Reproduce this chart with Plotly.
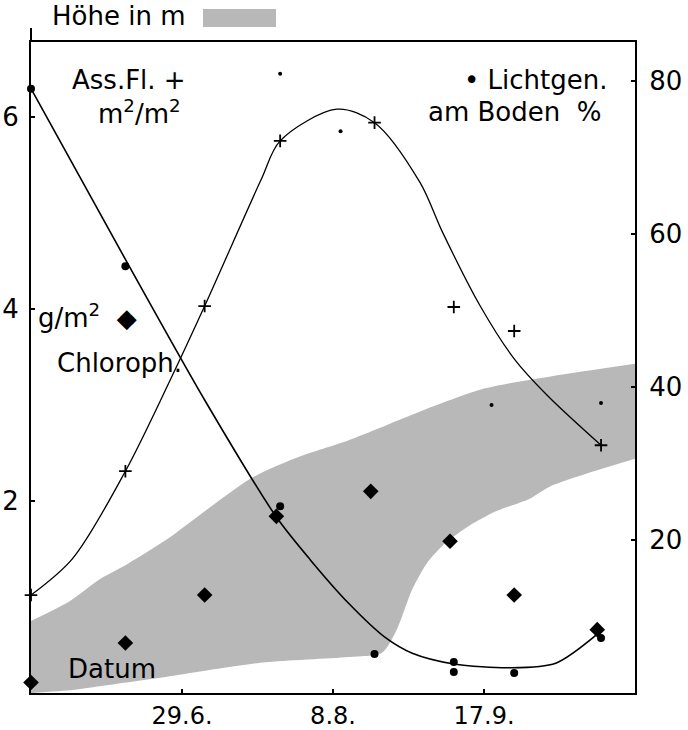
import plotly.graph_objects as go

# ---- data ----
# Assimilating leaf area (m2/m2), "+" markers, left axis
ass_dates = ["1960-05-20", "1960-06-14", "1960-07-05", "1960-07-25", "1960-08-19",
             "1960-09-09", "1960-09-25", "1960-10-18"]
ass_vals = [1.02, 2.31, 4.03, 5.75, 5.94, 4.02, 3.77, 2.58]
# hand-drawn curve for leaf area
ass_curve_dates = ["1960-05-20", "1960-05-31", "1960-06-14", "1960-06-26", "1960-07-05",
                   "1960-07-20", "1960-07-25", "1960-08-09", "1960-08-19", "1960-08-31",
                   "1960-09-06", "1960-09-16", "1960-09-25", "1960-10-04", "1960-10-18"]
ass_curve_vals = [1.02, 1.40, 2.31, 3.27, 4.03, 5.35, 5.75, 6.08, 5.94, 5.32,
                  4.80, 4.03, 3.48, 3.09, 2.58]
# small dots (second leaf-area estimate), left axis
small_dates = ["1960-07-25", "1960-08-10", "1960-09-19", "1960-10-18"]
small_vals = [6.45, 5.85, 3.00, 3.02]
# Chlorophyll g/m2, diamonds, left axis
chl_dates = ["1960-05-20", "1960-06-14", "1960-07-05", "1960-07-24", "1960-08-18",
             "1960-09-08", "1960-09-25", "1960-10-17"]
chl_vals = [0.11, 0.52, 1.02, 1.84, 2.10, 1.58, 1.02, 0.66]
# Light at ground (%), dots, right axis
light_dates = ["1960-05-20", "1960-06-14", "1960-07-25", "1960-08-19", "1960-09-09",
               "1960-09-09", "1960-09-25", "1960-10-18"]
light_vals = [79.0, 55.8, 24.4, 5.1, 4.05, 2.75, 2.6, 7.2]
# hand-drawn light curve
light_curve_dates = ["1960-05-20", "1960-06-15", "1960-07-05", "1960-07-24", "1960-08-02",
                     "1960-08-12", "1960-08-22", "1960-08-29", "1960-09-09", "1960-09-24",
                     "1960-10-06", "1960-10-17"]
light_curve_vals = [79.0, 55.8, 38.3, 23.0, 17.4, 11.8, 7.2, 5.2, 3.8, 3.3, 3.9, 7.7]
# Canopy height band (m), left axis
band_upper_dates = ["1960-05-20", "1960-05-30", "1960-06-07", "1960-06-14", "1960-06-25",
                    "1960-07-17", "1960-07-30", "1960-08-12", "1960-08-31", "1960-09-17",
                    "1960-10-05", "1960-10-27"]
band_upper_vals = [0.75, 0.95, 1.18, 1.33, 1.60, 2.23, 2.46, 2.63, 2.93, 3.17, 3.30, 3.43]
band_lower_dates = ["1960-05-20", "1960-05-31", "1960-06-07", "1960-06-25", "1960-07-08",
                    "1960-07-21", "1960-08-12", "1960-08-21", "1960-08-25", "1960-08-29",
                    "1960-09-02", "1960-09-07", "1960-09-13", "1960-09-20", "1960-09-29",
                    "1960-10-05", "1960-10-27"]
band_lower_vals = [0.0, 0.03, 0.07, 0.17, 0.25, 0.32, 0.375, 0.42, 0.67, 1.08,
                   1.36, 1.57, 1.74, 1.89, 2.02, 2.16, 2.44]

x_range = ["1960-05-20", "1960-10-27"]
x_tickvals = ["1960-06-29", "1960-08-08", "1960-09-17"]
x_ticktext = ["29.6.", "8.8.", "17.9."]
left_ticks = [2, 4, 6]
right_ticks = [20, 40, 60, 80]

FONT = "DejaVu Sans"
BAND = "#b8b8b8"
TXT = 26
TICK = 26

fig = go.Figure()

fig.add_trace(go.Scatter(x=band_lower_dates, y=band_lower_vals, mode="lines",
                         line=dict(width=0, shape="spline", smoothing=0.7),
                         hoverinfo="skip", showlegend=False))
fig.add_trace(go.Scatter(x=band_upper_dates, y=band_upper_vals, mode="lines",
                         fill="tonexty", fillcolor=BAND,
                         line=dict(width=0, shape="spline", smoothing=0.7),
                         hoverinfo="skip", showlegend=False))

fig.add_trace(go.Scatter(x=ass_curve_dates, y=ass_curve_vals, mode="lines",
                         line=dict(color="black", width=1.3, shape="spline", smoothing=0.9),
                         showlegend=False))
fig.add_trace(go.Scatter(x=light_curve_dates, y=light_curve_vals, mode="lines",
                         yaxis="y2",
                         line=dict(color="black", width=1.6, shape="spline", smoothing=0.8),
                         showlegend=False))

fig.add_trace(go.Scatter(x=ass_dates, y=ass_vals, mode="markers",
                         marker=dict(symbol="cross-thin", size=9,
                                     line=dict(color="black", width=1.8)),
                         cliponaxis=False, showlegend=False))
fig.add_trace(go.Scatter(x=small_dates, y=small_vals, mode="markers",
                         marker=dict(symbol="circle", size=4, color="black"),
                         cliponaxis=False, showlegend=False))
fig.add_trace(go.Scatter(x=chl_dates, y=chl_vals, mode="markers",
                         marker=dict(symbol="diamond", size=12, color="black"),
                         cliponaxis=False, showlegend=False))
fig.add_trace(go.Scatter(x=light_dates, y=light_vals, mode="markers", yaxis="y2",
                         marker=dict(symbol="circle", size=8, color="black"),
                         cliponaxis=False, showlegend=False))

# plot area: x 31..635, y 42..693 (pixels)
def px(x):
    return (x - 31) / 604.0

def py(y):
    return (693 - y) / 651.0

ann = [
    ("Höhe in m", 50, 16),
    ("Ass.Fl. +", 70, 80),
    ("m<sup>2</sup>/m<sup>2</sup>", 96, 112),
    ("• Lichtgen.", 462, 80),
    ("am Boden  %", 426, 112),
    ("g/m<sup>2</sup>  ◆", 36, 316),
    ("Chloroph.", 55, 363),
    ("Datum", 66, 669),
]
annotations = [dict(text=t, x=px(x), y=py(y), xref="paper", yref="paper",
                    xanchor="left", yanchor="middle", showarrow=False,
                    font=dict(family=FONT, size=TXT, color="black"))
               for t, x, y in ann]

shapes = [
    dict(type="rect", xref="paper", yref="paper", x0=px(203), x1=px(276),
         y0=py(27), y1=py(9), fillcolor=BAND, line=dict(width=0)),
    dict(type="line", xref="paper", yref="paper", x0=0, x1=0, y0=1, y1=py(28),
         line=dict(color="black", width=2)),
]

axis_common = dict(showgrid=False, zeroline=False, showline=True, linecolor="black",
                   linewidth=2, ticks="inside", ticklen=4, tickcolor="black",
                   tickwidth=1.5, automargin=False)

fig.update_layout(
    width=688, height=730,
    margin=dict(l=31, r=53, t=42, b=37, autoexpand=False),
    paper_bgcolor="white", plot_bgcolor="white",
    font=dict(family=FONT, size=TICK, color="black"),
    showlegend=False,
    annotations=annotations,
    shapes=shapes,
    xaxis=dict(type="date", range=x_range, tickvals=x_tickvals, ticktext=x_ticktext,
               mirror=True, ticklabelstandoff=0,
               tickfont=dict(family=FONT, size=24, color="black"), **axis_common),
    yaxis=dict(range=[0, 6.78], tickvals=left_ticks, ticklabelstandoff=5,
               tickfont=dict(family=FONT, size=TICK, color="black"), **axis_common),
    yaxis2=dict(range=[0, 85.1], tickvals=right_ticks, overlaying="y", side="right",
                ticklabelstandoff=7,
                tickfont=dict(family=FONT, size=TICK, color="black"), **axis_common),
)

fig.write_html("out.html", config={"displayModeBar": False},
               post_script="document.body.style.margin='0px';"
                           "document.body.style.overflow='hidden';")
